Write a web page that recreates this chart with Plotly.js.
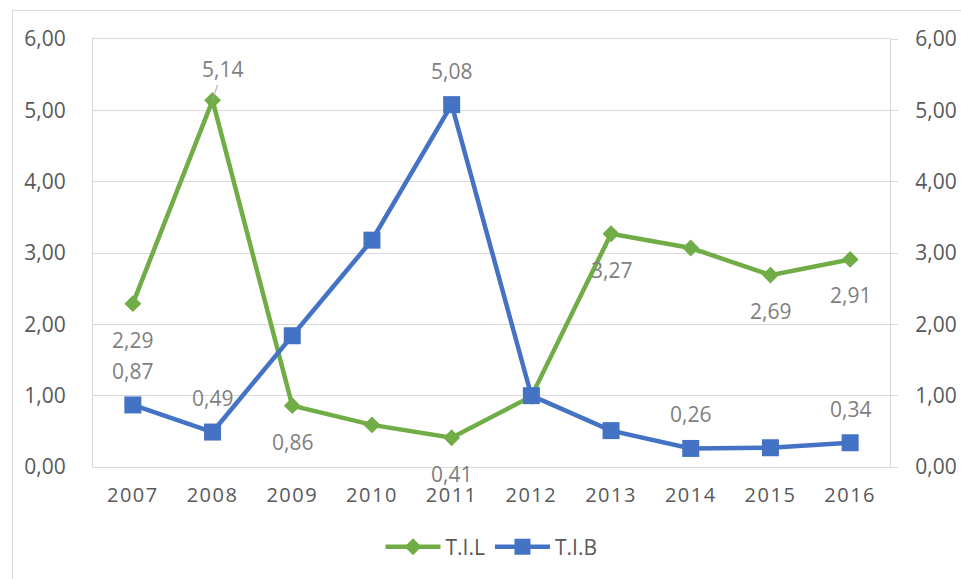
<!DOCTYPE html>
<html>
<head>
<meta charset="utf-8">
<script src="https://cdn.plot.ly/plotly-3.0.1.min.js"></script>
<style>
html,body{margin:0;padding:0;background:#fff;}
#wrap{position:relative;width:961px;height:579px;overflow:hidden;}
#chart{position:absolute;left:0;top:0;width:961px;height:579px;}
#frame{position:absolute;left:12px;top:10px;width:1000px;height:700px;border:1px solid #d9d9d9;pointer-events:none;box-sizing:border-box;}
#chart .xtick text{letter-spacing:1.5px;}
</style>
</head>
<body>
<div id="wrap"><div id="chart"></div><div id="frame"></div></div>
<script>
// ---- data ----
const years = ['2007','2008','2009','2010','2011','2012','2013','2014','2015','2016'];
const tilValues = [2.29, 5.14, 0.86, 0.59, 0.41, 0.99, 3.27, 3.07, 2.69, 2.91];
const tibValues = [0.87, 0.49, 1.84, 3.18, 5.08, 1.00, 0.51, 0.26, 0.27, 0.34];
const seriesNames = ['T.I.L', 'T.I.B'];
// which points carry a data label
const tilLabelled = [0, 1, 2, 4, 6, 8, 9];
const tibLabelled = [0, 1, 4, 7, 9];
const yTicks = [0, 1, 2, 3, 4, 5, 6];

// ---- styles ----
const GREEN = '#70AD47', BLUE = '#4472C4';
const FONT = 'Open Sans, Noto Sans, sans-serif';
const AXIS_COLOR = '#595959', LABEL_COLOR = '#7f7f7f', GRID = '#d9d9d9';

const fmt = v => v.toFixed(2).replace('.', ',');

const traces = [
  {x: years, y: tilValues, name: seriesNames[0], type: 'scatter', mode: 'lines+markers',
   line: {color: GREEN, width: 4.5}, marker: {symbol: 'diamond', size: 13, color: GREEN},
   hoverinfo: 'skip'},
  {x: years, y: tibValues, name: seriesNames[1], type: 'scatter', mode: 'lines+markers',
   line: {color: BLUE, width: 4.5}, marker: {symbol: 'square', size: 17, color: BLUE},
   hoverinfo: 'skip'},
  // invisible trace to activate right axis
  {x: years, y: tibValues, yaxis: 'y2', type: 'scatter', mode: 'markers',
   marker: {opacity: 0}, showlegend: false, hoverinfo: 'skip'}
];

const annotations = [];
// on a category axis annotations use the category index
function addLabel(values, i, above) {
  annotations.push({x: i, y: values[i], xref: 'x', yref: 'y', text: fmt(values[i]), showarrow: false,
    font: {family: FONT, size: 21, color: LABEL_COLOR}, xanchor: 'center', yanchor: 'middle',
    yshift: above ? 34 : -36});
}
tilLabelled.forEach(i => {
  if (i === 1) {
    annotations.push({x: i, y: tilValues[i], xref: 'x', yref: 'y', text: fmt(tilValues[i]), showarrow: true,
      arrowhead: 0, arrowwidth: 1, arrowcolor: '#a6a6a6', ax: 10, ay: -31, standoff: 0,
      font: {family: FONT, size: 21, color: LABEL_COLOR}});
  } else {
    addLabel(tilValues, i, false);
  }
});
tibLabelled.forEach(i => addLabel(tibValues, i, true));

const layout = {
  width: 961, height: 579,
  margin: {l: 93, r: 71, t: 39, b: 112},
  paper_bgcolor: '#fff', plot_bgcolor: '#fff',
  separators: ', ',
  font: {family: FONT, size: 21, color: AXIS_COLOR},
  showlegend: true,
  legend: {orientation: 'h', x: 0.5, xanchor: 'center', y: -0.187, yanchor: 'middle',
    font: {family: FONT, size: 21, color: AXIS_COLOR}, itemwidth: 55},
  xaxis: {type: 'category', range: [-0.5, 9.5], showgrid: false, showline: true, mirror: true,
    linecolor: GRID, linewidth: 1, ticks: 'outside', ticklen: 10, tickcolor: 'rgba(0,0,0,0)',
    tickfont: {family: FONT, size: 20, color: AXIS_COLOR}, fixedrange: true},
  yaxis: {range: [0, 6], tickvals: yTicks, tickformat: '.2f', showgrid: true, gridcolor: GRID,
    gridwidth: 1, zeroline: false, showline: true, linecolor: GRID, linewidth: 1,
    ticks: 'outside', ticklen: 22, tickcolor: 'rgba(0,0,0,0)',
    tickfont: {family: FONT, size: 21, color: AXIS_COLOR}, fixedrange: true},
  yaxis2: {range: [0, 6], tickvals: yTicks, tickformat: '.2f', overlaying: 'y', side: 'right',
    showgrid: false, zeroline: false, showline: true, linecolor: GRID, linewidth: 1,
    ticks: 'outside', ticklen: 7, tickcolor: GRID, ticklabelstandoff: 13,
    tickfont: {family: FONT, size: 21, color: AXIS_COLOR}, fixedrange: true},
  annotations: annotations
};

Plotly.newPlot('chart', traces, layout, {displayModeBar: false, staticPlot: true});
</script>
</body>
</html>
